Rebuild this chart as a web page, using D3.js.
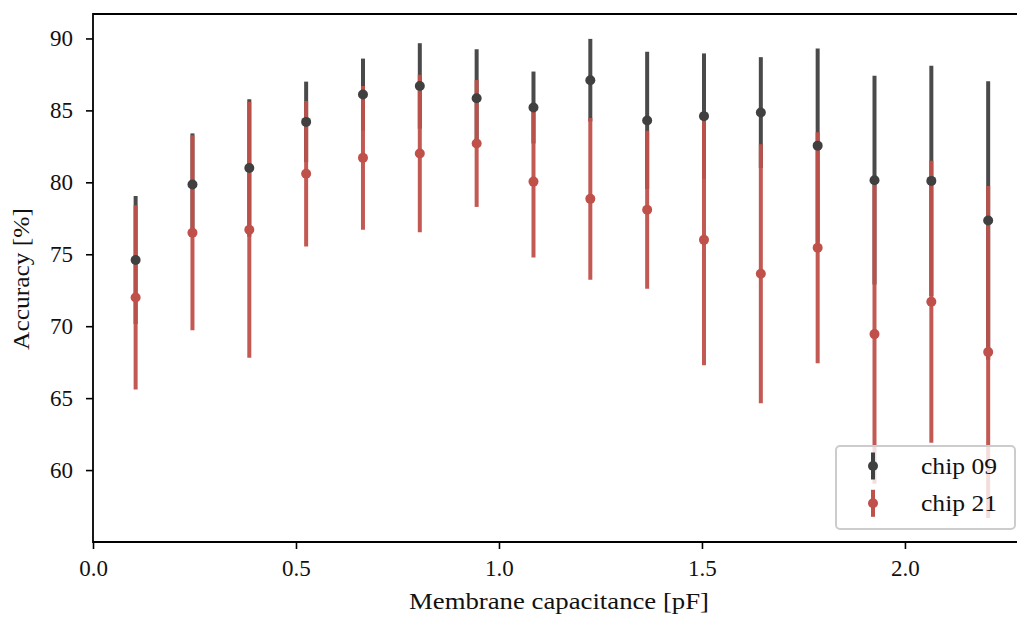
<!DOCTYPE html>
<html>
<head>
<meta charset="utf-8">
<script src="https://cdn.jsdelivr.net/npm/d3@7"></script>
<style>
  body { margin: 0; background: #fff; }
  svg text { font-family: "Liberation Serif", "DejaVu Serif", serif; fill: #111; }
</style>
</head>
<body>
<div id="chart"></div>
<script>
// membrane capacitance values (pF)
const capacitance = [0.105, 0.245, 0.385, 0.525, 0.665, 0.805, 0.945, 1.085,
                     1.225, 1.365, 1.505, 1.645, 1.785, 1.925, 2.065, 2.205];

// chip 09
const chip09Mean = [74.6, 79.85, 81.0, 84.2, 86.1, 86.7, 85.85, 85.2,
                    87.1, 84.3, 84.6, 84.85, 82.55, 80.15, 80.1, 77.35];
const chip09Err  = [4.45, 3.55, 4.77, 2.8, 2.5, 2.97, 3.4, 2.5,
                    2.87, 4.77, 4.36, 3.85, 6.75, 7.25, 8.0, 9.68];

// chip 21
const chip21Mean = [72.0, 76.5, 76.7, 80.6, 81.7, 82.0, 82.7, 80.05,
                    78.85, 78.1, 76.0, 73.65, 75.45, 69.45, 71.7, 68.2];
const chip21Err  = [6.4, 6.78, 8.9, 5.06, 5.0, 5.47, 4.41, 5.28,
                    5.62, 5.49, 8.72, 9.0, 8.03, 10.4, 9.8, 11.54];

const seriesNames = ["chip 09", "chip 21"];
const colors = ["#404040", "#c0504a"];

const xTicks = [0.0, 0.5, 1.0, 1.5, 2.0];
const yTicks = [60, 65, 70, 75, 80, 85, 90];

const W = 1017, H = 619;
const margin = {top: 14, right: 0, bottom: 77, left: 93};
const fontSize = 23;

const svg = d3.select("#chart").append("svg")
    .attr("width", W)
    .attr("height", H);

const x = d3.scaleLinear()
    .domain([0, 2.276])
    .range([margin.left, W - margin.right]);

const y = d3.scaleLinear()
    .domain([55, 91.7])
    .range([H - margin.bottom, margin.top]);

// build series
const series = [
    {name: seriesNames[0], color: colors[0], mean: chip09Mean, err: chip09Err},
    {name: seriesNames[1], color: colors[1], mean: chip21Mean, err: chip21Err}
].map(s => ({
    ...s,
    points: capacitance.map((c, i) => ({c: c, m: s.mean[i], e: s.err[i]}))
}));

// error bars first (under the points)
const bars = svg.append("g").attr("class", "errorbars");
series.forEach(s => {
    bars.selectAll(null)
        .data(s.points)
        .enter().append("line")
        .attr("x1", d => x(d.c))
        .attr("x2", d => x(d.c))
        .attr("y1", d => y(d.m - d.e))
        .attr("y2", d => y(d.m + d.e))
        .attr("stroke", s.color)
        .attr("stroke-width", 4)
        .attr("stroke-opacity", 0.95);
});

// points
const dots = svg.append("g").attr("class", "points");
series.forEach(s => {
    dots.selectAll(null)
        .data(s.points)
        .enter().append("circle")
        .attr("cx", d => x(d.c))
        .attr("cy", d => y(d.m))
        .attr("r", 5)
        .attr("fill", s.color);
});

// axes
const xAxis = svg.append("g")
    .attr("transform", `translate(0,${H - margin.bottom})`)
    .call(d3.axisBottom(x).tickValues(xTicks).tickFormat(d3.format(".1f")).tickSize(7).tickPadding(11));

const yAxis = svg.append("g")
    .attr("transform", `translate(${margin.left},0)`)
    .call(d3.axisLeft(y).tickValues(yTicks).tickFormat(d3.format("d")).tickSize(7).tickPadding(13));

[xAxis, yAxis].forEach(a => {
    a.select(".domain").remove();
    a.selectAll(".tick line").attr("stroke", "#000").attr("stroke-width", 1.6);
    a.selectAll(".tick text")
        .style("font-size", fontSize + "px")
        .style("font-family", '"Liberation Serif", serif')
        .attr("fill", "#111");
});

// spines (top, left, bottom)
svg.append("path")
    .attr("d", `M${W},${margin.top}H${margin.left}V${H - margin.bottom}H${W}`)
    .attr("fill", "none")
    .attr("stroke", "#000")
    .attr("stroke-width", 1.8);

// axis labels
svg.append("text")
    .attr("x", 559)
    .attr("y", 609)
    .attr("text-anchor", "middle")
    .attr("textLength", 300)
    .attr("lengthAdjust", "spacingAndGlyphs")
    .style("font-size", fontSize + "px")
    .text("Membrane capacitance [pF]");

svg.append("text")
    .attr("transform", `translate(29,279) rotate(-90)`)
    .attr("text-anchor", "middle")
    .attr("textLength", 142)
    .attr("lengthAdjust", "spacingAndGlyphs")
    .style("font-size", fontSize + "px")
    .text("Accuracy [%]");

// legend
const legend = svg.append("g").attr("class", "legend");
legend.append("rect")
    .attr("x", 836).attr("y", 446)
    .attr("width", 179).attr("height", 83)
    .attr("rx", 4)
    .attr("fill", "#fff").attr("fill-opacity", 0.8)
    .attr("stroke", "#ccc").attr("stroke-width", 2);

series.forEach((s, i) => {
    const cy = 466 + i * 37.3;
    const g = legend.append("g");
    g.append("line")
        .attr("x1", 873).attr("x2", 873)
        .attr("y1", cy - 13.5).attr("y2", cy + 13.5)
        .attr("stroke", s.color).attr("stroke-width", 4);
    g.append("circle")
        .attr("cx", 873).attr("cy", cy).attr("r", 5)
        .attr("fill", s.color);
    g.append("text")
        .attr("x", 921).attr("y", cy + 8)
        .attr("textLength", 76)
        .attr("lengthAdjust", "spacingAndGlyphs")
        .style("font-size", fontSize + "px")
        .text(s.name);
});
</script>
</body>
</html>
